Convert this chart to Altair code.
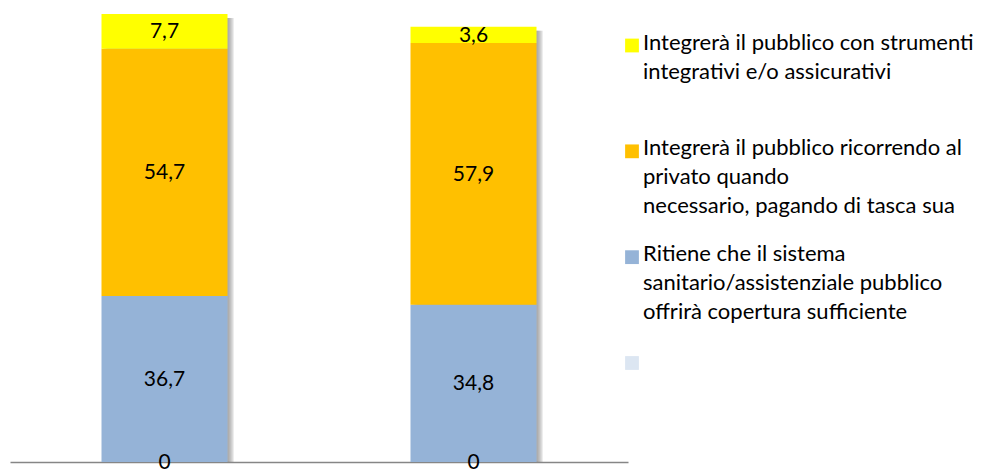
import altair as alt
import pandas as pd

# Data
categories = ["Gruppo 1", "Gruppo 2"]
series = [
    "Base",
    "Ritiene che il sistema sanitario/assistenziale pubblico offrirà copertura sufficiente",
    "Integrerà il pubblico ricorrendo al privato quando necessario, pagando di tasca sua",
    "Integrerà il pubblico con strumenti integrativi e/o assicurativi",
]
values_g1 = [0, 36.7, 54.7, 7.7]
values_g2 = [0, 34.8, 57.9, 3.6]
colors = ["#DCE6F2", "#95B3D7", "#FFC000", "#FFFF00"]

legend_lines = [
    ["Integrerà il pubblico con strumenti", "integrativi e/o assicurativi"],
    ["Integrerà il pubblico ricorrendo al", "privato quando", "necessario, pagando di tasca sua"],
    ["Ritiene che il sistema", "sanitario/assistenziale pubblico", "offrirà copertura sufficiente"],
    [""],
]
legend_series = [series[3], series[2], series[1], series[0]]

rows = []
for cat, vals in zip(categories, [values_g1, values_g2]):
    for i, (s, v) in enumerate(zip(series, vals)):
        rows.append({"cat": cat, "series": s, "order": i, "value": v,
                     "label": f"{v:g}".replace(".", ",")})
df = pd.DataFrame(rows)

totals = pd.DataFrame({"cat": categories,
                       "total": [sum(values_g1), sum(values_g2)]})

leg = pd.DataFrame({"idx": list(range(len(legend_series))),
                    "series": legend_series,
                    "lines": legend_lines})

FONT = "Lato"
BAR = 126

color_scale = alt.Scale(domain=series, range=colors)
x_enc = alt.X("cat:N", scale=alt.Scale(paddingInner=0, paddingOuter=0),
              axis=alt.Axis(labels=False, ticks=False, title=None, grid=False,
                            domainColor="#868686", domainWidth=1.5))
y_scale = alt.Scale(domain=[0, 100], nice=False, zero=True)

base = alt.Chart(df).transform_stack(
    stack="value", groupby=["cat"], as_=["y0", "y1"],
    sort=[alt.SortField("order", order="ascending")]
).transform_calculate(mid="(datum.y0 + datum.y1) / 2")

shadows = []
for off in [2, 4, 6]:
    shadows.append(
        alt.Chart(totals).mark_bar(size=BAR, xOffset=off, yOffset=4,
                                   color="#7f7f7f", opacity=0.28)
        .encode(x=x_enc,
                y=alt.Y("total:Q", scale=y_scale, axis=None),
                y2=alt.datum(0))
    )

bars = base.mark_bar(size=BAR).encode(
    x=x_enc,
    y=alt.Y("y1:Q", scale=y_scale, axis=None),
    y2="y0:Q",
    color=alt.Color("series:N", scale=color_scale, legend=None),
)

labels = base.mark_text(font=FONT, fontSize=21, color="#000000", dy=1).encode(
    x=x_enc,
    y=alt.Y("mid:Q", scale=y_scale, axis=None),
    text="label:N",
)

leg_y = alt.Y("idx:O", scale=alt.Scale(range=[35.5, 353], padding=0), axis=None)
leg_sq = alt.Chart(leg).mark_square(size=190, opacity=1).encode(
    x=alt.value(622),
    y=leg_y,
    color=alt.Color("series:N", scale=color_scale, legend=None),
)
leg_txt = alt.Chart(leg).mark_text(font=FONT, fontSize=22, align="left",
                                   baseline="top", lineHeight=29, dy=-13,
                                   color="#000000").encode(
    x=alt.value(633),
    y=leg_y,
    text="lines",
)

chart = alt.layer(*shadows, bars, labels, leg_sq, leg_txt).resolve_scale(
    y="independent"
).properties(
    width=618, height=452,
    background="#ffffff",
    padding={"left": 2, "top": 2, "right": 0, "bottom": 12},
).configure_view(stroke=None)

chart.save("out.html", embed_options={"renderer": "svg", "actions": False})
